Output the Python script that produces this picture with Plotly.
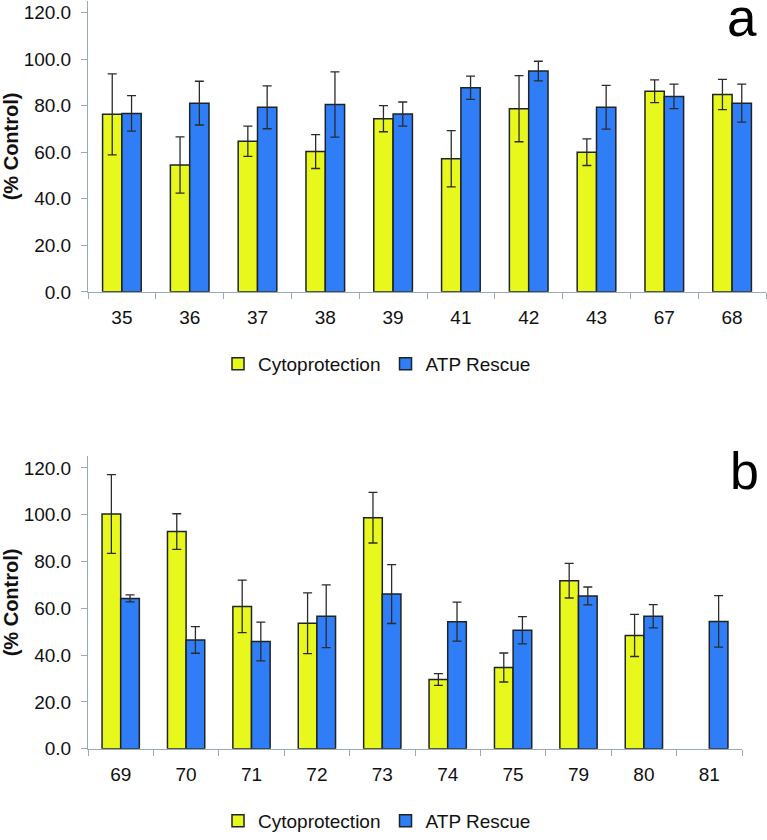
import plotly.graph_objects as go

# ---------------- data ----------------
series_names = ["Cytoprotection", "ATP Rescue"]

cats_a = ["35", "36", "37", "38", "39", "41", "42", "43", "67", "68"]
cyto_a = [76.3, 54.5, 64.7, 60.3, 74.4, 57.2, 78.7, 60.0, 86.2, 84.8]
cyto_a_err = [17.4, 12.1, 6.5, 7.3, 5.6, 12.1, 14.2, 5.7, 4.9, 6.5]
atp_a = [76.7, 81.1, 79.3, 80.5, 76.4, 87.7, 94.9, 79.3, 84.0, 81.1]
atp_a_err = [7.6, 9.4, 9.2, 14.0, 5.2, 5.0, 4.2, 9.4, 5.3, 8.2]

cats_b = ["69", "70", "71", "72", "73", "74", "75", "79", "80", "81"]
cyto_b = [100.3, 92.8, 60.8, 53.6, 98.7, 29.6, 34.7, 71.8, 48.4, None]
cyto_b_err = [16.8, 7.6, 11.2, 13.0, 10.8, 2.5, 6.2, 7.4, 9.0, 0]
atp_b = [64.2, 46.5, 45.8, 56.6, 66.1, 54.3, 50.6, 65.3, 56.6, 54.4]
atp_b_err = [1.5, 5.7, 8.3, 13.4, 12.6, 8.3, 5.8, 3.8, 5.0, 11.0]

y_ticks = [0, 20, 40, 60, 80, 100, 120]
panel_labels = ["a", "b"]
y_title = "(% Control)"

# ---------------- style ----------------
W, H = 767, 840
YELLOW = "#E9F81C"
BLUE = "#2F7EF7"
OUTLINE = "#1E2326"
ERR = "#2B2B2B"
AXIS = "#9AAAB2"
FONT = "Liberation Sans, Arial, sans-serif"
FS = 19


def px_x(p):
    return p / W


def px_y(p):
    return 1 - p / H


fig = go.Figure()


def add_panel(cats, cyto, cyto_err, atp, atp_err, xa, ya, legend):
    for name, vals, errs, col in [
        (series_names[0], cyto, cyto_err, YELLOW),
        (series_names[1], atp, atp_err, BLUE),
    ]:
        fig.add_trace(go.Bar(
            x=cats, y=vals, name=name,
            xaxis=xa, yaxis=ya, legend=legend,
            marker=dict(color=col, line=dict(color=OUTLINE, width=1.5)),
            error_y=dict(type="data", array=errs, visible=True,
                         color=ERR, thickness=1.3, width=4.5),
        ))


add_panel(cats_a, cyto_a, cyto_a_err, atp_a, atp_a_err, "x", "y", "legend")
add_panel(cats_b, cyto_b, cyto_b_err, atp_b, atp_b_err, "x2", "y2", "legend2")

xcommon = dict(
    type="category", showline=True, linecolor=AXIS, linewidth=1,
    ticks="outside", tickson="boundaries", ticklen=6, tickcolor=AXIS,
    showgrid=False, zeroline=False,
    tickfont=dict(family=FONT, size=FS, color="#111111"),
    ticklabelstandoff=8,
    automargin=False,
)
ycommon = dict(
    range=[0, 125], tickvals=y_ticks, tickformat=".1f",
    showline=True, linecolor=AXIS, linewidth=1,
    ticks="outside", ticklen=6, tickcolor=AXIS,
    showgrid=False, zeroline=False,
    tickfont=dict(family=FONT, size=FS, color="#111111"),
    ticklabelstandoff=6,
    title=dict(text="<b>" + y_title + "</b>",
               font=dict(family=FONT, size=20, color="#111111"),
               standoff=6),
    automargin=False,
)

legcommon = dict(
    orientation="h", xanchor="center", yanchor="middle",
    font=dict(family=FONT, size=FS, color="#111111"),
    bgcolor="rgba(0,0,0,0)", itemwidth=30, tracegroupgap=0,
)

fig.update_layout(
    width=W, height=H,
    margin=dict(l=0, r=0, t=0, b=0),
    paper_bgcolor="white", plot_bgcolor="white",
    barmode="group", bargap=0.43, bargroupgap=0.0,
    xaxis=dict(domain=[px_x(88), px_x(766)], anchor="y", **xcommon),
    yaxis=dict(domain=[px_y(294.3), px_y(1)], anchor="x", **ycommon),
    xaxis2=dict(domain=[px_x(88), px_x(742)], anchor="y2", **xcommon),
    yaxis2=dict(domain=[px_y(755), px_y(460)], anchor="x2", **ycommon),
    legend=dict(x=px_x(377), y=px_y(367), **legcommon),
    legend2=dict(x=px_x(377), y=px_y(828), **legcommon),
    annotations=[
        dict(text=panel_labels[0], xref="paper", yref="paper",
             x=px_x(742), y=px_y(18), xanchor="center", yanchor="middle",
             showarrow=False, font=dict(family=FONT, size=53, color="#000000")),
        dict(text=panel_labels[1], xref="paper", yref="paper",
             x=px_x(744), y=px_y(475), xanchor="center", yanchor="middle",
             showarrow=False, font=dict(family=FONT, size=52, color="#000000")),
    ],
)

fig.write_html(
    "out.html",
    config={"displayModeBar": False},
    post_script="document.body.style.margin='0';document.body.style.overflow='hidden';",
)
